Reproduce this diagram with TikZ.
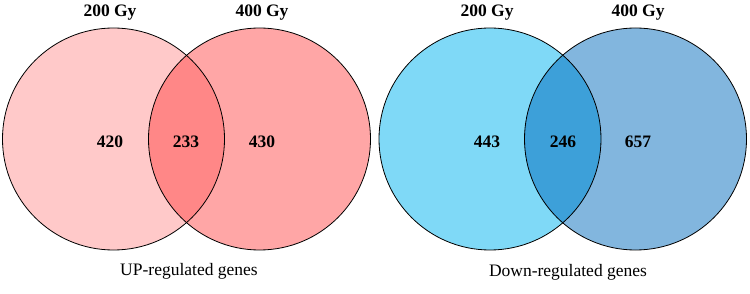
\documentclass[tikz,border=0pt]{standalone}
\usepackage{fontspec}
\setmainfont{Liberation Serif}
\usetikzlibrary{positioning}

\definecolor{upA}{HTML}{FFC9C9}
\definecolor{upB}{HTML}{FFA6A6}
\definecolor{upAB}{HTML}{FF8787}
\definecolor{downA}{HTML}{7FD9F7}
\definecolor{downB}{HTML}{82B6DE}
\definecolor{downAB}{HTML}{3DA0D9}

\begin{document}
\begin{tikzpicture}[
    x=1pt, y=-1pt,
    venn/.style={circle, minimum size=222pt, inner sep=0pt},
    ring/.style={draw=black, line width=0.8pt},
    dose/.style={font=\fontsize{17.5}{21}\selectfont\bfseries},
    count/.style={font=\fontsize{17.5}{21}\selectfont\bfseries},
    caption/.style={font=\fontsize{17.5}{21}\selectfont}
  ]
  \useasboundingbox (0,0) rectangle (750,294);

  % up-regulated
  \node[venn, fill=upA] (upL) at (113.5,139) {};
  \node[venn, fill=upB] (upR) at (259.5,139) {};
  \begin{scope}
    \clip (upL.center) circle[radius=111pt];
    \fill[upAB] (upR.center) circle[radius=111pt];
  \end{scope}
  \draw[ring] (upL.center) circle[radius=111pt];
  \draw[ring] (upR.center) circle[radius=111pt];

  \node[dose] (upLt) at (110,13) {200 Gy};
  \node[dose] (upRt) at (262,13) {400 Gy};
  \node[count] (up1) at (110,142) {420};
  \node[count] (up12) at (186,142) {233};
  \node[count] (up2) at (262,142) {430};
  \node[caption] (upcap) at (189,271) {UP-regulated genes};

  % down-regulated
  \node[venn, fill=downA] (dnL) at (490,139) {};
  \node[venn, fill=downB] (dnR) at (635.5,139) {};
  \begin{scope}
    \clip (dnL.center) circle[radius=111pt];
    \fill[downAB] (dnR.center) circle[radius=111pt];
  \end{scope}
  \draw[ring] (dnL.center) circle[radius=111pt];
  \draw[ring] (dnR.center) circle[radius=111pt];

  \node[dose] (dnLt) at (487,13) {200 Gy};
  \node[dose] (dnRt) at (638,13) {400 Gy};
  \node[count] (dn1) at (487,142) {443};
  \node[count] (dn12) at (563,142) {246};
  \node[count] (dn2) at (638,142) {657};
  \node[caption] (dncap) at (568,272) {Down-regulated genes};
\end{tikzpicture}
\end{document}
